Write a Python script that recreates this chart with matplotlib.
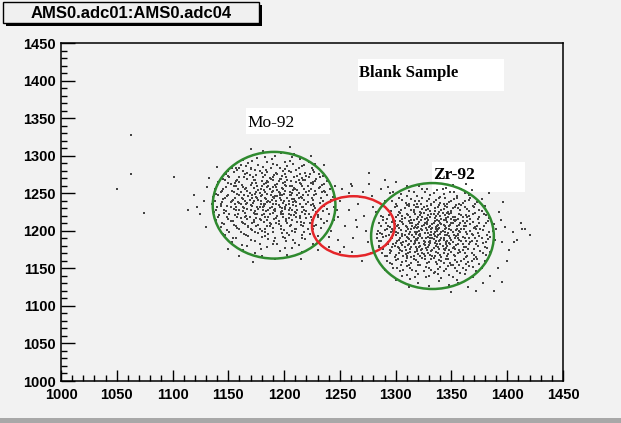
import numpy as np
import matplotlib
matplotlib.use("Agg")
import matplotlib.pyplot as plt
from matplotlib.patches import Ellipse, Rectangle
from matplotlib.ticker import MultipleLocator

# adc01 (x) vs adc04 (y) events
mo_points = [
    (1181, 1306), (1197, 1303), (1172, 1301), (1209, 1302),
    (1163, 1294), (1176, 1297), (1185, 1292), (1192, 1299), (1201, 1291), (1214, 1296), (1168, 1290), (1207, 1298),
    (1189, 1295), (1222, 1292),
    (1153, 1284), (1161, 1288), (1170, 1282), (1177, 1287), (1184, 1281), (1190, 1289), (1196, 1283), (1203, 1286),
    (1211, 1281), (1218, 1288), (1225, 1283), (1166, 1286), (1181, 1285), (1199, 1280), (1208, 1289), (1158, 1281),
    (1148, 1275), (1155, 1278), (1160, 1272), (1167, 1277), (1172, 1271), (1178, 1279), (1183, 1274), (1187, 1270),
    (1193, 1277), (1198, 1273), (1204, 1279), (1209, 1271), (1214, 1276), (1220, 1273), (1227, 1278), (1232, 1272),
    (1163, 1279), (1175, 1274), (1190, 1272), (1201, 1276), (1216, 1270), (1151, 1271), (1185, 1278), (1223, 1275),
    (1141, 1265), (1147, 1268), (1152, 1262), (1158, 1267), (1162, 1261), (1167, 1269), (1171, 1264), (1176, 1260),
    (1180, 1266), (1184, 1263), (1188, 1269), (1192, 1261), (1195, 1266), (1199, 1263), (1203, 1268), (1207, 1260),
    (1211, 1265), (1215, 1262), (1219, 1267), (1224, 1264), (1229, 1269), (1234, 1261), (1238, 1266), (1156, 1264),
    (1173, 1267), (1186, 1260), (1201, 1261), (1213, 1268), (1226, 1262), (1197, 1269),
    (1138, 1255), (1143, 1251), (1148, 1258), (1153, 1253), (1157, 1259), (1161, 1252), (1165, 1256), (1169, 1250),
    (1173, 1257), (1177, 1254), (1180, 1259), (1183, 1251), (1187, 1256), (1190, 1253), (1193, 1258), (1196, 1250),
    (1199, 1255), (1202, 1259), (1205, 1252), (1209, 1257), (1212, 1254), (1216, 1259), (1220, 1251), (1224, 1256),
    (1228, 1253), (1232, 1258), (1237, 1251), (1241, 1256), (1163, 1258), (1178, 1250), (1194, 1254), (1207, 1250),
    (1218, 1255), (1185, 1258),
    (1136, 1245), (1141, 1248), (1145, 1242), (1150, 1247), (1154, 1241), (1158, 1249), (1162, 1244), (1165, 1240),
    (1168, 1246), (1171, 1243), (1174, 1249), (1177, 1241), (1180, 1247), (1183, 1244), (1186, 1240), (1188, 1248),
    (1191, 1243), (1194, 1246), (1197, 1241), (1200, 1249), (1203, 1244), (1206, 1247), (1209, 1242), (1212, 1248),
    (1215, 1245), (1218, 1241), (1221, 1247), (1225, 1243), (1229, 1249), (1233, 1244), (1238, 1247), (1242, 1241),
    (1160, 1247), (1175, 1245), (1189, 1241), (1204, 1240), (1196, 1248), (1213, 1243),
    (1135, 1235), (1140, 1231), (1144, 1238), (1149, 1233), (1153, 1239), (1157, 1232), (1161, 1236), (1164, 1230),
    (1167, 1237), (1170, 1234), (1173, 1239), (1176, 1231), (1179, 1236), (1182, 1233), (1185, 1238), (1187, 1230),
    (1190, 1235), (1193, 1239), (1196, 1232), (1199, 1237), (1202, 1234), (1205, 1230), (1208, 1238), (1211, 1233),
    (1214, 1236), (1217, 1231), (1221, 1238), (1224, 1234), (1228, 1230), (1232, 1237), (1236, 1233), (1241, 1238),
    (1245, 1232), (1159, 1238), (1181, 1231), (1198, 1230), (1210, 1239), (1226, 1236),
    (1137, 1225), (1142, 1221), (1146, 1228), (1151, 1223), (1155, 1229), (1159, 1222), (1163, 1226), (1166, 1220),
    (1170, 1227), (1173, 1224), (1177, 1229), (1180, 1221), (1184, 1226), (1187, 1223), (1191, 1228), (1194, 1220),
    (1197, 1225), (1201, 1229), (1204, 1222), (1207, 1227), (1211, 1224), (1214, 1220), (1218, 1228), (1222, 1223),
    (1226, 1227), (1230, 1221), (1235, 1226), (1240, 1222), (1157, 1227), (1176, 1222), (1192, 1226), (1209, 1221),
    (1199, 1222), (1216, 1225),
    (1139, 1215), (1144, 1211), (1149, 1218), (1154, 1213), (1158, 1219), (1162, 1212), (1167, 1216), (1171, 1210),
    (1175, 1217), (1179, 1214), (1183, 1219), (1187, 1211), (1191, 1216), (1195, 1213), (1199, 1218), (1203, 1210),
    (1207, 1215), (1211, 1219), (1215, 1212), (1220, 1217), (1225, 1214), (1230, 1219), (1236, 1211), (1165, 1219),
    (1185, 1215), (1204, 1217), (1173, 1212), (1218, 1210),
    (1143, 1205), (1149, 1201), (1155, 1208), (1160, 1203), (1165, 1209), (1170, 1202), (1175, 1206), (1180, 1200),
    (1185, 1207), (1190, 1204), (1195, 1209), (1200, 1201), (1205, 1206), (1210, 1203), (1215, 1208), (1221, 1202),
    (1227, 1207), (1233, 1204), (1168, 1205), (1188, 1209), (1207, 1200), (1178, 1203),
    (1147, 1195), (1154, 1191), (1161, 1198), (1168, 1193), (1174, 1199), (1180, 1192), (1186, 1196), (1192, 1190),
    (1198, 1197), (1204, 1194), (1210, 1199), (1216, 1191), (1223, 1196), (1230, 1193), (1183, 1199), (1201, 1191),
    (1153, 1185), (1162, 1181), (1170, 1188), (1178, 1183), (1186, 1189), (1194, 1182), (1202, 1187), (1210, 1184),
    (1219, 1189), (1226, 1182),
    (1163, 1175), (1174, 1171), (1185, 1178), (1196, 1173), (1207, 1177), (1216, 1172),
    (1180, 1166), (1192, 1163), (1203, 1168),
    (1128, 1240), (1125, 1222), (1131, 1258), (1130, 1205), (1133, 1270), (1140, 1285), (1145, 1196), (1150, 1176),
    (1160, 1166), (1172, 1158), (1215, 1162), (1230, 1175), (1240, 1192), (1246, 1260), (1236, 1288), (1224, 1300),
    (1205, 1312), (1170, 1309), (1122, 1232), (1248, 1218),
]

mo_points_more = [
    (1171, 1293), (1183, 1298), (1194, 1288), (1205, 1293), (1216, 1286), (1160, 1284), (1228, 1289), (1188, 1284),
    (1150, 1279), (1157, 1283), (1165, 1276), (1174, 1281), (1180, 1277), (1188, 1283), (1194, 1276), (1201, 1282),
    (1206, 1278), (1213, 1284), (1219, 1277), (1226, 1281), (1231, 1276), (1170, 1284),
    (1145, 1269), (1150, 1273), (1157, 1266), (1164, 1271), (1169, 1274), (1174, 1268), (1181, 1272), (1185, 1266),
    (1191, 1274), (1196, 1269), (1202, 1272), (1206, 1266), (1212, 1273), (1217, 1268), (1222, 1271), (1228, 1266),
    (1235, 1273), (1190, 1267),
    (1140, 1261), (1145, 1256), (1150, 1263), (1155, 1259), (1160, 1265), (1166, 1257), (1170, 1261), (1175, 1264),
    (1179, 1256), (1182, 1262), (1186, 1265), (1190, 1258), (1194, 1262), (1198, 1257), (1201, 1265), (1205, 1260),
    (1210, 1256), (1214, 1264), (1221, 1259), (1226, 1265), (1231, 1257), (1236, 1262),
    (1139, 1249), (1144, 1253), (1149, 1246), (1155, 1251), (1159, 1255), (1164, 1247), (1167, 1253), (1171, 1248),
    (1175, 1252), (1179, 1246), (1182, 1254), (1185, 1249), (1189, 1252), (1192, 1246), (1195, 1251), (1198, 1247),
    (1201, 1253), (1205, 1248), (1208, 1254), (1213, 1250), (1217, 1247), (1222, 1253), (1227, 1248), (1234, 1252),
    (1138, 1240), (1143, 1236), (1147, 1243), (1152, 1238), (1156, 1244), (1160, 1237), (1163, 1242), (1166, 1235),
    (1169, 1241), (1172, 1237), (1176, 1244), (1179, 1239), (1182, 1236), (1184, 1242), (1187, 1238), (1190, 1245),
    (1193, 1236), (1196, 1243), (1200, 1239), (1204, 1236), (1207, 1242), (1211, 1238), (1216, 1244), (1220, 1236),
    (1226, 1241), (1235, 1239),
    (1139, 1228), (1143, 1233), (1148, 1226), (1152, 1231), (1156, 1235), (1160, 1227), (1163, 1232), (1167, 1229),
    (1171, 1233), (1174, 1226), (1178, 1232), (1181, 1228), (1183, 1235), (1186, 1227), (1189, 1232), (1192, 1229),
    (1195, 1234), (1198, 1226), (1201, 1232), (1204, 1228), (1208, 1234), (1212, 1227), (1216, 1232), (1220, 1226),
    (1227, 1233), (1238, 1229),
    (1141, 1219), (1146, 1224), (1150, 1216), (1156, 1221), (1161, 1217), (1165, 1224), (1169, 1218), (1174, 1222),
    (1178, 1216), (1182, 1223), (1186, 1219), (1190, 1224), (1193, 1217), (1197, 1222), (1202, 1216), (1206, 1221),
    (1210, 1225), (1214, 1217), (1219, 1222), (1224, 1218), (1229, 1225), (1233, 1216),
    (1146, 1209), (1152, 1213), (1157, 1206), (1163, 1211), (1168, 1207), (1173, 1214), (1177, 1208), (1182, 1212),
    (1187, 1206), (1193, 1211), (1197, 1206), (1202, 1213), (1206, 1208), (1212, 1212), (1217, 1206), (1223, 1211),
    (1229, 1208), (1238, 1213),
    (1151, 1199), (1158, 1204), (1164, 1196), (1171, 1201), (1177, 1197), (1183, 1203), (1190, 1198), (1197, 1203),
    (1203, 1197), (1211, 1202), (1218, 1198), (1226, 1203),
    (1157, 1190), (1166, 1194), (1174, 1187), (1183, 1193), (1191, 1186), (1199, 1192), (1208, 1188), (1216, 1194),
    (1167, 1180), (1179, 1176), (1190, 1182), (1201, 1177), (1213, 1181),
]

zr_points = [
    (1321, 1259), (1333, 1263), (1342, 1256), (1351, 1261), (1328, 1255),
    (1305, 1249), (1312, 1253), (1319, 1246), (1326, 1251), (1331, 1247), (1337, 1254), (1343, 1249), (1349, 1252),
    (1355, 1246), (1362, 1250), (1368, 1254), (1340, 1245),
    (1297, 1240), (1303, 1244), (1309, 1237), (1314, 1242), (1319, 1236), (1324, 1243), (1328, 1239), (1332, 1235),
    (1336, 1241), (1340, 1237), (1344, 1244), (1348, 1238), (1352, 1242), (1357, 1236), (1362, 1240), (1367, 1244),
    (1373, 1238), (1377, 1242), (1321, 1240), (1346, 1235),
    (1291, 1230), (1296, 1226), (1301, 1233), (1305, 1228), (1310, 1234), (1314, 1227), (1318, 1231), (1322, 1225),
    (1325, 1232), (1329, 1229), (1332, 1234), (1335, 1226), (1338, 1231), (1341, 1228), (1344, 1233), (1347, 1225),
    (1351, 1230), (1354, 1234), (1358, 1227), (1362, 1232), (1366, 1226), (1370, 1231), (1375, 1228), (1380, 1233),
    (1316, 1234), (1339, 1225), (1356, 1230), (1327, 1227),
    (1287, 1220), (1292, 1216), (1296, 1223), (1300, 1218), (1304, 1224), (1308, 1217), (1311, 1221), (1314, 1215),
    (1317, 1222), (1320, 1219), (1323, 1224), (1326, 1216), (1329, 1221), (1331, 1218), (1334, 1223), (1337, 1215),
    (1340, 1220), (1342, 1224), (1345, 1217), (1348, 1222), (1351, 1219), (1354, 1215), (1357, 1223), (1360, 1218),
    (1363, 1221), (1367, 1216), (1371, 1224), (1375, 1219), (1379, 1222), (1384, 1217), (1306, 1220), (1324, 1218),
    (1336, 1220), (1350, 1216), (1366, 1220), (1346, 1224),
    (1285, 1210), (1289, 1214), (1293, 1207), (1297, 1212), (1301, 1206), (1304, 1213), (1307, 1209), (1310, 1205),
    (1313, 1211), (1316, 1214), (1318, 1208), (1321, 1212), (1324, 1206), (1326, 1210), (1329, 1214), (1331, 1207),
    (1334, 1211), (1336, 1205), (1339, 1213), (1341, 1209), (1344, 1206), (1346, 1212), (1349, 1208), (1352, 1214),
    (1355, 1206), (1358, 1211), (1361, 1207), (1364, 1213), (1367, 1209), (1371, 1205), (1375, 1211), (1379, 1207),
    (1383, 1213), (1388, 1209), (1299, 1209), (1315, 1207), (1328, 1209), (1338, 1208), (1351, 1211), (1362, 1210),
    (1343, 1214), (1320, 1205),
    (1284, 1200), (1288, 1196), (1292, 1203), (1296, 1198), (1299, 1204), (1302, 1197), (1305, 1201), (1308, 1195),
    (1311, 1202), (1313, 1199), (1316, 1204), (1318, 1196), (1321, 1200), (1323, 1203), (1326, 1197), (1328, 1201),
    (1331, 1195), (1333, 1204), (1335, 1199), (1338, 1202), (1340, 1196), (1342, 1200), (1345, 1204), (1347, 1197),
    (1350, 1201), (1352, 1195), (1355, 1203), (1358, 1198), (1361, 1202), (1364, 1196), (1367, 1200), (1370, 1204),
    (1374, 1197), (1378, 1201), (1382, 1195), (1387, 1200), (1390, 1203), (1298, 1200), (1319, 1198), (1332, 1199),
    (1344, 1198), (1357, 1200), (1372, 1202), (1336, 1203),
    (1283, 1190), (1287, 1186), (1291, 1193), (1295, 1188), (1298, 1194), (1301, 1187), (1304, 1191), (1307, 1185),
    (1310, 1192), (1312, 1189), (1315, 1194), (1317, 1186), (1320, 1190), (1322, 1193), (1325, 1187), (1327, 1191),
    (1330, 1185), (1332, 1194), (1334, 1189), (1337, 1192), (1339, 1186), (1341, 1190), (1344, 1194), (1346, 1187),
    (1349, 1191), (1351, 1185), (1354, 1193), (1357, 1188), (1360, 1192), (1363, 1186), (1366, 1190), (1369, 1194),
    (1373, 1187), (1377, 1191), (1381, 1185), (1385, 1192), (1389, 1188), (1297, 1190), (1318, 1189), (1331, 1190),
    (1343, 1188), (1356, 1190), (1371, 1191), (1335, 1193),
    (1285, 1180), (1289, 1176), (1293, 1183), (1297, 1178), (1300, 1184), (1303, 1177), (1306, 1181), (1309, 1175),
    (1312, 1182), (1314, 1179), (1317, 1184), (1319, 1176), (1322, 1180), (1325, 1183), (1327, 1177), (1330, 1181),
    (1333, 1175), (1335, 1184), (1338, 1179), (1340, 1182), (1343, 1176), (1346, 1180), (1348, 1184), (1351, 1177),
    (1354, 1181), (1357, 1175), (1360, 1183), (1363, 1178), (1366, 1182), (1370, 1176), (1374, 1180), (1378, 1184),
    (1382, 1177), (1387, 1181), (1299, 1180), (1321, 1178), (1336, 1180), (1352, 1179), (1367, 1185), (1345, 1183),
    (1288, 1170), (1292, 1166), (1296, 1173), (1300, 1168), (1304, 1174), (1307, 1167), (1311, 1171), (1314, 1165),
    (1317, 1172), (1320, 1169), (1323, 1174), (1326, 1166), (1329, 1170), (1332, 1173), (1335, 1167), (1338, 1171),
    (1341, 1165), (1344, 1174), (1347, 1169), (1350, 1172), (1353, 1166), (1356, 1170), (1360, 1174), (1364, 1167),
    (1368, 1171), (1372, 1165), (1376, 1173), (1381, 1168), (1385, 1172), (1309, 1169), (1331, 1168), (1346, 1166),
    (1362, 1170), (1324, 1171),
    (1292, 1160), (1297, 1156), (1302, 1163), (1306, 1158), (1310, 1164), (1314, 1157), (1318, 1161), (1322, 1155),
    (1326, 1162), (1330, 1159), (1334, 1164), (1337, 1156), (1341, 1160), (1345, 1163), (1349, 1157), (1353, 1161),
    (1357, 1155), (1361, 1163), (1365, 1158), (1370, 1162), (1375, 1156), (1380, 1160), (1316, 1163), (1339, 1161),
    (1355, 1159), (1328, 1157),
    (1298, 1150), (1304, 1146), (1310, 1153), (1315, 1148), (1320, 1154), (1325, 1147), (1330, 1151), (1335, 1145),
    (1340, 1152), (1345, 1149), (1350, 1154), (1355, 1146), (1360, 1150), (1366, 1153), (1372, 1147), (1377, 1151),
    (1332, 1148), (1347, 1153),
    (1306, 1140), (1313, 1136), (1320, 1143), (1327, 1138), (1334, 1144), (1341, 1137), (1348, 1141), (1355, 1135),
    (1362, 1142), (1369, 1138),
    (1320, 1130), (1330, 1126), (1339, 1133), (1348, 1128), (1356, 1131),
    (1398, 1205), (1405, 1198), (1412, 1210), (1395, 1185), (1402, 1175), (1416, 1203), (1393, 1225), (1400, 1160),
    (1392, 1150), (1385, 1140), (1378, 1130), (1365, 1125), (1372, 1120), (1350, 1118), (1312, 1125), (1300, 1135),
    (1290, 1148), (1394, 1215), (1409, 1188), (1396, 1238), (1384, 1250), (1363, 1262), (1340, 1270), (1310, 1260),
    (1298, 1252), (1420, 1195), (1388, 1120), (1395, 1132), (1413, 1203), (1406, 1185),
]

zr_points_more = [
    (1316, 1251), (1324, 1256), (1334, 1250), (1345, 1257), (1352, 1251), (1359, 1255), (1310, 1246), (1366, 1247),
    (1300, 1236), (1306, 1241), (1312, 1235), (1317, 1239), (1323, 1236), (1330, 1242), (1334, 1238), (1339, 1243),
    (1343, 1236), (1350, 1240), (1355, 1244), (1360, 1237), (1366, 1241), (1371, 1235),
    (1293, 1227), (1299, 1231), (1303, 1225), (1308, 1230), (1312, 1233), (1316, 1228), (1320, 1232), (1324, 1229),
    (1328, 1233), (1331, 1226), (1335, 1230), (1339, 1234), (1343, 1229), (1346, 1232), (1350, 1226), (1353, 1231),
    (1359, 1234), (1364, 1229), (1369, 1233), (1377, 1226),
    (1289, 1218), (1294, 1221), (1298, 1215), (1302, 1221), (1306, 1216), (1310, 1223), (1313, 1218), (1316, 1225),
    (1319, 1216), (1322, 1221), (1325, 1224), (1328, 1217), (1332, 1222), (1335, 1217), (1338, 1223), (1341, 1216),
    (1344, 1221), (1347, 1218), (1350, 1224), (1353, 1219), (1356, 1216), (1359, 1221), (1364, 1218), (1369, 1222),
    (1374, 1216), (1381, 1221),
    (1287, 1207), (1291, 1211), (1295, 1205), (1299, 1213), (1302, 1208), (1306, 1212), (1309, 1207), (1312, 1213),
    (1315, 1210), (1317, 1205), (1320, 1209), (1323, 1214), (1325, 1208), (1328, 1212), (1330, 1205), (1333, 1209),
    (1335, 1213), (1337, 1206), (1340, 1211), (1343, 1208), (1345, 1214), (1348, 1206), (1350, 1210), (1353, 1213),
    (1357, 1208), (1360, 1213), (1363, 1206), (1369, 1212), (1373, 1207), (1381, 1211),
    (1286, 1197), (1290, 1201), (1294, 1195), (1297, 1203), (1300, 1199), (1303, 1204), (1306, 1196), (1309, 1200),
    (1312, 1196), (1314, 1202), (1317, 1199), (1319, 1204), (1322, 1196), (1324, 1201), (1327, 1204), (1329, 1197),
    (1332, 1202), (1334, 1196), (1337, 1200), (1339, 1204), (1341, 1198), (1344, 1202), (1346, 1195), (1348, 1203),
    (1351, 1198), (1354, 1201), (1356, 1196), (1359, 1203), (1363, 1199), (1368, 1196), (1376, 1203), (1384, 1198),
    (1285, 1187), (1289, 1192), (1293, 1185), (1296, 1191), (1300, 1194), (1303, 1188), (1306, 1193), (1309, 1186),
    (1311, 1191), (1314, 1186), (1316, 1192), (1319, 1188), (1321, 1194), (1324, 1190), (1326, 1185), (1329, 1192),
    (1331, 1187), (1333, 1191), (1336, 1186), (1338, 1194), (1340, 1188), (1343, 1191), (1345, 1185), (1348, 1193),
    (1350, 1188), (1353, 1190), (1356, 1194), (1359, 1186), (1362, 1190), (1368, 1187), (1375, 1193), (1383, 1189),
    (1287, 1177), (1291, 1181), (1295, 1175), (1298, 1183), (1302, 1179), (1305, 1184), (1308, 1178), (1311, 1181),
    (1313, 1176), (1316, 1182), (1318, 1178), (1321, 1184), (1324, 1176), (1326, 1181), (1329, 1178), (1331, 1184),
    (1334, 1177), (1337, 1182), (1339, 1176), (1342, 1180), (1345, 1177), (1349, 1182), (1353, 1176), (1356, 1183),
    (1361, 1179), (1365, 1176), (1372, 1182), (1380, 1178),
    (1290, 1167), (1295, 1171), (1299, 1165), (1303, 1170), (1306, 1173), (1310, 1166), (1313, 1172), (1316, 1167),
    (1319, 1173), (1322, 1166), (1325, 1169), (1328, 1174), (1333, 1166), (1336, 1172), (1340, 1168), (1343, 1171),
    (1348, 1174), (1352, 1168), (1358, 1172), (1363, 1165), (1370, 1168), (1378, 1170),
    (1295, 1157), (1300, 1161), (1305, 1155), (1309, 1160), (1312, 1155), (1320, 1158), (1324, 1164), (1332, 1162),
    (1336, 1158), (1343, 1157), (1347, 1162), (1351, 1155), (1359, 1160), (1363, 1156), (1368, 1160), (1373, 1163),
    (1301, 1151), (1307, 1148), (1313, 1150), (1318, 1146), (1327, 1152), (1338, 1149), (1343, 1146), (1353, 1151),
    (1363, 1148), (1369, 1152),
    (1310, 1141), (1317, 1138), (1330, 1140), (1338, 1143), (1351, 1139), (1358, 1144),
]

gap_points = [
    (1250, 1240), (1258, 1228), (1245, 1215), (1265, 1205), (1272, 1220), (1280, 1232), (1262, 1190), (1254, 1178),
    (1275, 1185), (1285, 1210), (1290, 1240), (1268, 1245), (1242, 1200), (1248, 1188), (1278, 1170), (1270, 1160),
    (1258, 1250), (1283, 1196), (1295, 1250), (1287, 1255), (1276, 1262), (1260, 1262), (1250, 1172), (1264, 1215),
    (1255, 1207), (1273, 1200), (1282, 1225), (1247, 1228), (1266, 1235), (1279, 1246), (1252, 1255), (1285, 1178),
    (1240, 1178), (1261, 1172), (1293, 1258), (1300, 1265), (1290, 1268), (1244, 1245), (1236, 1253), (1271, 1252),
    (1276, 1277), (1261, 1259),
]

stray_points = [
    (1063, 1327), (1063, 1276), (1101, 1272), (1050, 1255), (1074, 1224), (1114, 1228), (1119, 1248),
]

# cut contours: (centre x, centre y, width, height, colour)
cut_x = [1191, 1262, 1333]
cut_y = [1234, 1206, 1193]
cut_w = [110, 74, 110]
cut_h = [142, 80, 141]
cut_color = ["#2f8a2f", "#e5262a", "#2f8a2f"]

bg = "#f2f2f2"
fig = plt.figure(figsize=(6.21, 4.23), dpi=100, facecolor=bg)
W, H = 621, 423
ax = fig.add_axes([61 / W, 1 - 381 / H, 502 / W, 338 / H])
ax.set_facecolor(bg)

for pts in (mo_points, mo_points_more, zr_points, zr_points_more, gap_points, stray_points):
    arr = np.array(pts)
    ax.scatter(arr[:, 0], arr[:, 1], s=2.0, marker="s", color="#444444",
               linewidths=0, zorder=2)

for cx, cy, w, h, c in zip(cut_x, cut_y, cut_w, cut_h, cut_color):
    ax.add_patch(Ellipse((cx, cy), w, h, fill=False, edgecolor=c, lw=1.8, zorder=3))

# white label boxes
ax.add_patch(Rectangle((1266, 1386), 131, 43, facecolor="white", edgecolor="none", zorder=1))
ax.add_patch(Rectangle((1166, 1329), 75, 35, facecolor="white", edgecolor="none", zorder=1))
ax.add_patch(Rectangle((1333, 1252), 83, 40, facecolor="white", edgecolor="none", zorder=1))

serif = ["Liberation Serif", "DejaVu Serif"]
ax.text(1267, 1405, "Blank Sample", family=serif, fontsize=12, fontweight="bold",
        va="baseline", ha="left", zorder=4)
ax.text(1167, 1338, "Mo-92", family=serif, fontsize=12.5,
        va="baseline", ha="left", zorder=4)
ax.text(1334, 1269, "Zr-92", family=serif, fontsize=12.5, fontweight="bold",
        va="baseline", ha="left", zorder=4)

ax.set_xlim(1000, 1450)
ax.set_ylim(1000, 1450)
ax.xaxis.set_major_locator(MultipleLocator(50))
ax.yaxis.set_major_locator(MultipleLocator(50))
ax.xaxis.set_minor_locator(MultipleLocator(10))
ax.yaxis.set_minor_locator(MultipleLocator(10))
ax.tick_params(which="both", direction="in", width=1.0, color="black",
               top=False, right=False)
ax.xaxis.set_tick_params(which="major", length=8, pad=5)
ax.yaxis.set_tick_params(which="major", length=10, pad=4)
ax.tick_params(which="minor", length=4.5)
for lab in ax.get_xticklabels() + ax.get_yticklabels():
    lab.set_family(["Liberation Sans", "DejaVu Sans"])
    lab.set_fontweight("bold")
    lab.set_fontsize(10.5)
for sp in ax.spines.values():
    sp.set_linewidth(1.1)
    sp.set_color("black")

# ROOT-style title box with shadow, and window edge at the bottom
fig.patches.append(Rectangle((6 / W, 1 - 26 / H), 256 / W, 21 / H, transform=fig.transFigure,
                             facecolor="black", edgecolor="none", zorder=1))
fig.patches.append(Rectangle((3 / W, 1 - 23 / H), 256 / W, 21 / H, transform=fig.transFigure,
                             facecolor="#f0f0f0", edgecolor="black", lw=1.0, zorder=2))
fig.text(131 / W, 1 - 13 / H, "AMS0.adc01:AMS0.adc04", family=["Liberation Sans", "DejaVu Sans"],
         fontsize=12, fontweight="bold", ha="center", va="center", zorder=3)
fig.patches.append(Rectangle((0, 0), 1, 5 / H, transform=fig.transFigure,
                             facecolor="#a8a8a8", edgecolor="none", zorder=1))

fig.savefig("out.png", dpi=100, facecolor=bg)
